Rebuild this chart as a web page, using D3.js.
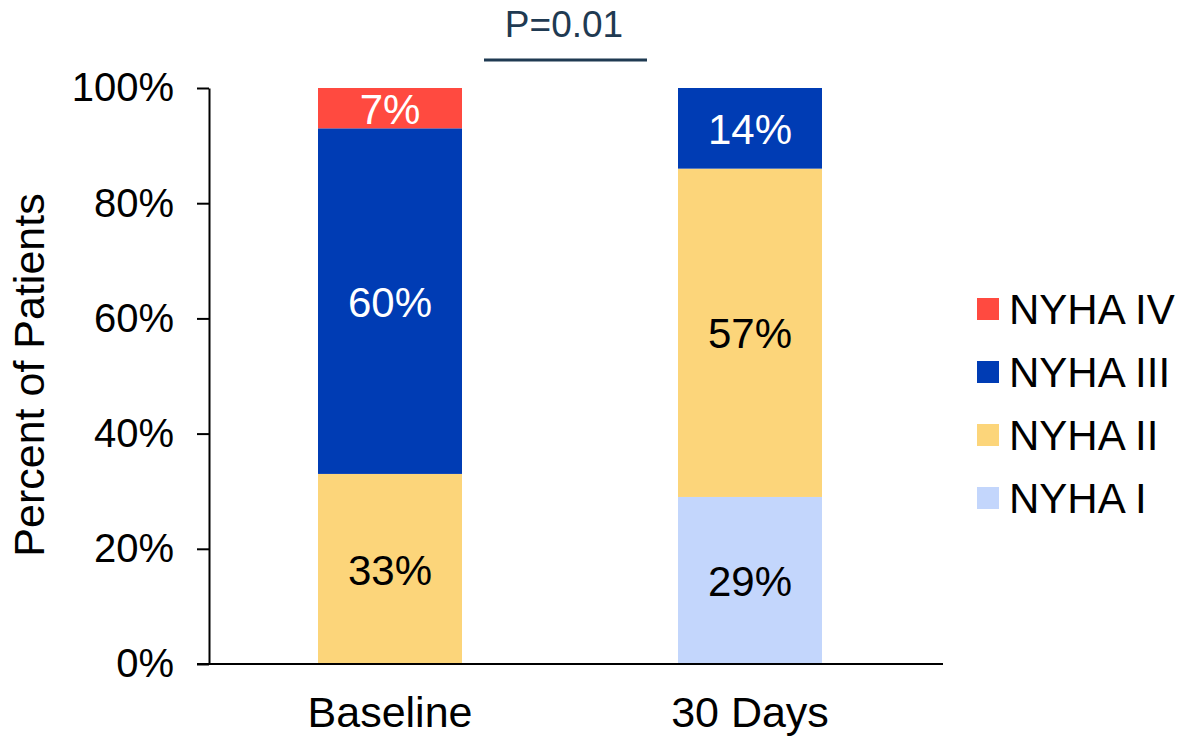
<!DOCTYPE html>
<html>
<head>
<meta charset="utf-8">
<script src="https://cdn.jsdelivr.net/npm/d3@7"></script>
<style>
  html, body { margin: 0; padding: 0; background: #fff; }
  svg { display: block; font-family: "Liberation Sans", Arial, sans-serif; }
</style>
</head>
<body>
<svg id="chart" width="1183" height="737"></svg>
<script>
// NYHA functional class distribution, baseline vs. 30 days
const groups = ["Baseline", "30 Days"];
const classes = ["NYHA I", "NYHA II", "NYHA III", "NYHA IV"];
const nyhaI   = [0, 29];
const nyhaII  = [33, 57];
const nyhaIII = [60, 14];
const nyhaIV  = [7, 0];
const yTicks = [0, 20, 40, 60, 80, 100];
const colors = ["#C3D6FC", "#FCD57A", "#003CB4", "#FF4A40"];
const labelColors = ["#000", "#000", "#fff", "#fff"];
const pValue = "P=0.01";

const seriesValues = [nyhaI, nyhaII, nyhaIII, nyhaIV];
const rows = groups.map((g, i) => {
  const r = { group: g };
  classes.forEach((c, k) => { r[c] = seriesValues[k][i]; });
  return r;
});

const svg = d3.select("#chart");
const x = d3.scaleBand().domain(groups).range([210, 930]).paddingInner(0.6).paddingOuter(0.3);
const y = d3.scaleLinear().domain([0, 100]).range([664, 88]);

const stack = d3.stack().keys(classes);
const layers = stack(rows);

// stacked segments
const layerG = svg.selectAll("g.layer").data(layers).join("g")
  .attr("class", "layer")
  .attr("fill", (d, i) => colors[i]);

layerG.selectAll("rect").data(d => d).join("rect")
  .filter(d => d[1] - d[0] > 0)
  .attr("x", d => x(d.data.group))
  .attr("width", x.bandwidth())
  .attr("y", d => y(d[1]))
  .attr("height", d => y(d[0]) - y(d[1]));

// segment value labels
layers.forEach((layer, i) => {
  svg.append("g").selectAll("text").data(layer.filter(d => d[1] - d[0] > 0)).join("text")
    .attr("x", d => x(d.data.group) + x.bandwidth() / 2)
    .attr("y", d => y((d[0] + d[1]) / 2))
    .attr("dy", "0.37em")
    .attr("text-anchor", "middle")
    .attr("font-size", 42)
    .attr("fill", labelColors[i])
    .text(d => (d[1] - d[0]) + "%");
});

// y axis
const yAxis = svg.append("g")
  .attr("transform", "translate(209,0)")
  .call(d3.axisLeft(y).tickValues(yTicks).tickFormat(d => d + "%").tickSize(12).tickPadding(23).tickSizeOuter(0));
yAxis.select(".domain").attr("stroke", "#000").attr("stroke-width", 2);
yAxis.selectAll(".tick line").attr("stroke", "#000").attr("stroke-width", 2);
yAxis.selectAll(".tick text").attr("font-size", 40).attr("fill", "#000")
  .attr("font-family", "Liberation Sans, Arial, sans-serif");

// x axis baseline
const xAxis = svg.append("g")
  .attr("transform", "translate(0,664)")
  .call(d3.axisBottom(x).tickSize(0).tickPadding(32));
xAxis.select(".domain").attr("d", "M197,0H943").attr("stroke", "#000").attr("stroke-width", 2);
xAxis.selectAll(".tick text").attr("font-size", 43).attr("fill", "#000")
  .attr("font-family", "Liberation Sans, Arial, sans-serif");

// y axis title
svg.append("text")
  .attr("transform", "translate(44,375) rotate(-90)")
  .attr("text-anchor", "middle")
  .attr("font-size", 43)
  .attr("fill", "#000")
  .text("Percent of Patients");

// significance annotation
svg.append("text")
  .attr("x", 564).attr("y", 37)
  .attr("text-anchor", "middle")
  .attr("font-size", 37)
  .attr("fill", "#1F3A52")
  .text(pValue);
svg.append("line")
  .attr("x1", 484).attr("x2", 647)
  .attr("y1", 60).attr("y2", 60)
  .attr("stroke", "#1F3A52").attr("stroke-width", 3);

// legend, top class first
const legendOrder = classes.map((c, i) => ({ name: c, color: colors[i] })).reverse();
const legend = svg.append("g").selectAll("g").data(legendOrder).join("g")
  .attr("transform", (d, i) => `translate(977,${309 + i * 63})`);
legend.append("rect")
  .attr("x", 0).attr("y", -11).attr("width", 22).attr("height", 22)
  .attr("fill", d => d.color);
legend.append("text")
  .attr("x", 32).attr("dy", "0.36em")
  .attr("font-size", 42).attr("fill", "#000")
  .text(d => d.name);
</script>
</body>
</html>
